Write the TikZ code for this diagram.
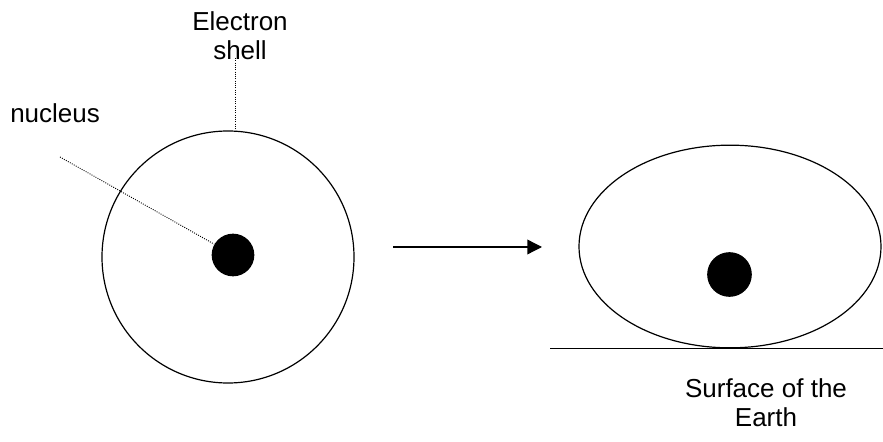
\documentclass[tikz,border=0pt]{standalone}
\usepackage{fontspec}
\setmainfont{Liberation Sans}
\usetikzlibrary{arrows.meta, positioning, shapes.geometric}

\begin{document}
\begin{tikzpicture}[x=0.75pt, y=-0.75pt,
    label text/.style={font=\fontsize{19.5}{22}\selectfont, align=center, inner sep=0pt},
    pointer/.style={densely dotted, line width=0.7pt},
    outline/.style={draw, line width=0.9pt, inner sep=0pt}]
    \useasboundingbox (0,0) rectangle (883,442);

    % Atom before
    \node[outline, circle, minimum size=189pt] (shell) at (228,257) {};
    \node[circle, fill, minimum size=32pt, inner sep=0pt] (core) at (233,255) {};

    % Labels
    \node[label text, anchor=west] (nucleuslabel) at (10,113) {nucleus};
    \node[label text] (shelllabel) at (240,36) {Electron\\shell};

    % Pointers
    \coordinate (nucleusend) at (60,157);
    \coordinate (shellend) at (235,58);
    \draw[pointer] (nucleusend) -- (core.150);
    \draw[pointer] (shellend) -- (shell.north -| shellend);

    % Arrow
    \coordinate (arrowstart) at (393,247);
    \coordinate (arrowend) at (542,247);
    \draw[line width=1pt, -{Triangle[length=11pt, width=11pt]}] (arrowstart) -- (arrowend);

    % Atom after
    \node[outline, ellipse, minimum width=226.5pt, minimum height=152pt] (flat) at (730,246.5) {};
    \node[circle, fill, minimum size=33.5pt, inner sep=0pt] (flatcore) at (729.5,274.5) {};

    % Ground
    \coordinate (groundleft) at (550,348.5);
    \coordinate (groundright) at (883,348.5);
    \draw[line width=1.3pt] (groundleft) -- (groundright);
    \node[label text] (surfacelabel) at (766,403) {Surface of the\\Earth};

\end{tikzpicture}
\end{document}
